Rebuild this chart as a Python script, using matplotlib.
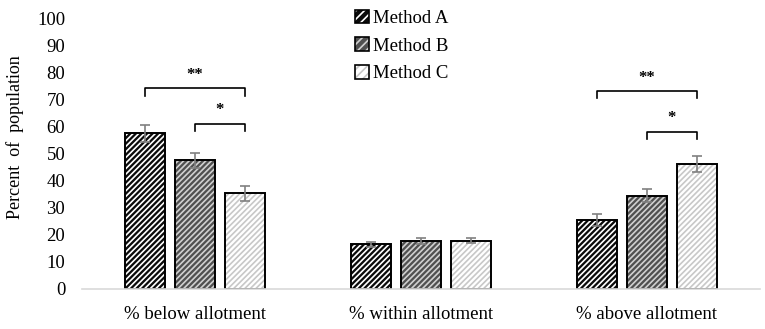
import numpy as np
from matplotlib import pyplot as plt
from matplotlib.patches import Patch

categories = ['% below allotment', '% within allotment', '% above allotment']
methods = ['Method A', 'Method B', 'Method C']
method_a = [57.5, 16.5, 25.5]
method_b = [47.5, 17.7, 34.4]
method_c = [35.3, 17.7, 46.1]
err_a = [3.2, 0.9, 2.3]
err_b = [2.7, 1.0, 2.4]
err_c = [2.8, 0.9, 2.9]

# significance brackets: (group, from bar, to bar, height, label)
brackets = [(0, 0, 2, 74, '**'), (0, 1, 2, 61, '*'),
            (2, 0, 2, 73, '**'), (2, 1, 2, 58, '*')]

plt.rcParams['font.family'] = ['Liberation Serif', 'DejaVu Serif']
plt.rcParams['hatch.linewidth'] = 1.2

faces = ['#0a0a0a', '#505050', '#ffffff']
hatch_cols = ['#ffffff', '#d0d0d0', '#c8c8c8']
hatch = '//////'

fig = plt.figure(figsize=(7.65, 3.29), dpi=100)
ax = fig.add_axes([0.107, 0.122, 0.886, 0.823])

x = np.arange(len(categories))
step = 0.221
width = 0.177
series = [method_a, method_b, method_c]
errs = [err_a, err_b, err_c]
for i, (vals, e) in enumerate(zip(series, errs)):
    pos = x + (i - 1) * step
    ax.bar(pos, vals, width, color=faces[i], edgecolor=hatch_cols[i],
           hatch=hatch, linewidth=0)
    ax.bar(pos, vals, width, fill=False, edgecolor='black', linewidth=1.4)
    ax.errorbar(pos, vals, yerr=e, fmt='none', ecolor='#808080',
                elinewidth=1.2, capsize=3.5, capthick=1.2)

for g, b0, b1, h, lab in brackets:
    x0 = g + (b0 - 1) * step
    x1 = g + (b1 - 1) * step
    ax.plot([x0, x0, x1, x1], [h - 2.6, h, h, h - 2.6], color='black', lw=1.2)
    ax.text((x0 + x1) / 2, h + 2.0, lab, ha='center', va='bottom',
            fontsize=12, fontweight='bold')

# legend: hatched fill with black outline on top
handles = [(Patch(facecolor=faces[i], edgecolor=hatch_cols[i], hatch='////',
                  linewidth=0),
            Patch(fill=False, edgecolor='black', linewidth=1.2))
           for i in range(3)]
leg = fig.legend(handles, methods, loc='upper left',
                 bbox_to_anchor=(0.442, 1.022), frameon=False, fontsize=13.5,
                 handlelength=0.75, handleheight=0.75, handletextpad=0.2,
                 labelspacing=0.55)

ax.set_xlim(-0.5, 2.5)
ax.set_ylim(0, 100)
ax.set_yticks(range(0, 101, 10))
ax.set_xticks(x)
ax.set_xticklabels(categories)
ax.tick_params(axis='both', length=0, labelsize=13.5)
ax.tick_params(axis='x', pad=12)
ax.tick_params(axis='y', pad=12)
ax.set_ylabel('Percent  of  population', fontsize=13, labelpad=8)
ax.yaxis.set_label_coords(-0.085, 0.56)
for s in ['top', 'right', 'left']:
    ax.spines[s].set_visible(False)
ax.spines['bottom'].set_color('#d9d9d9')
ax.spines['bottom'].set_linewidth(1.2)

fig.savefig('out.png', dpi=100)
